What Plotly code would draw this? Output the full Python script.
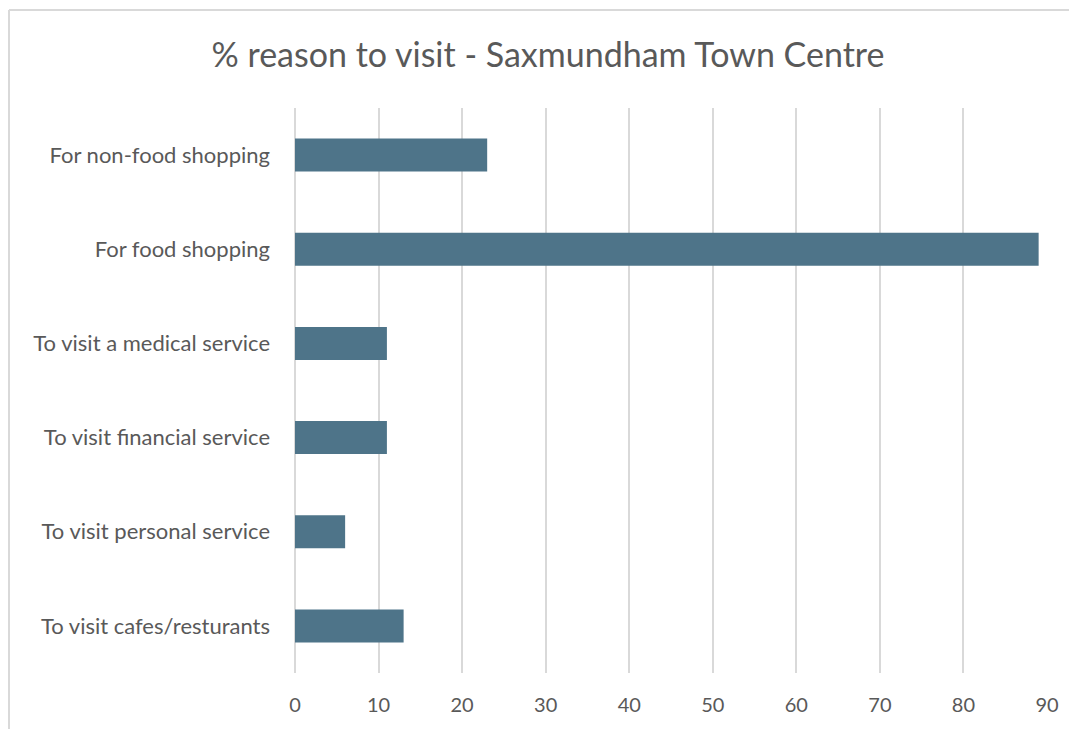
import plotly.graph_objects as go

# chart data
categories = [
    "For non-food shopping",
    "For food shopping",
    "To visit a medical service",
    "To visit financial service",
    "To visit personal service",
    "To visit cafes/resturants",
]
percent = [23, 89, 11, 11, 6, 13]
x_ticks = list(range(0, 100, 10))

BAR = "#4e7489"
GRID = "#d9d9d9"
TEXT = "#595959"
FONT = "Lato, 'Open Sans', sans-serif"

fig = go.Figure(go.Bar(
    x=percent,
    y=categories,
    orientation="h",
    marker=dict(color=BAR, line=dict(width=0)),
))

# the page body adds an 8px offset, so the figure is 8px smaller
W, H = 1069, 721
L, R, T, B = 287, 30, 100, 56
pw, ph = W - L - R, H - T - B

fig.update_layout(
    width=W, height=H,
    margin=dict(l=L, r=R, t=T, b=B),
    paper_bgcolor="white",
    plot_bgcolor="white",
    bargap=0.65,
    showlegend=False,
    font=dict(family=FONT, color=TEXT),
    title=dict(
        text="% reason to visit - Saxmundham Town Centre",
        x=(548 - 8) / W, xanchor="center",
        y=1 - 47 / H, yanchor="middle",
        font=dict(size=34, color=TEXT, family=FONT),
    ),
    xaxis=dict(
        range=[0, 90],
        tickvals=x_ticks,
        showgrid=True, gridcolor=GRID, gridwidth=2,
        zeroline=True, zerolinecolor=GRID, zerolinewidth=2,
        showline=False,
        tickfont=dict(size=20, color=TEXT),
        ticklabelstandoff=18,
        fixedrange=True,
    ),
    yaxis=dict(
        autorange="reversed",
        showgrid=False, zeroline=False, showline=False,
        tickfont=dict(size=22, color=TEXT),
        ticklabelstandoff=24,
        fixedrange=True,
    ),
    shapes=[
        # chart border (only top and left edges show in the reference)
        dict(type="line", xref="paper", yref="paper",
             x0=(1 - L) / pw, x1=(W + 10 - L) / pw,
             y0=(H - B - 2) / ph, y1=(H - B - 2) / ph,
             line=dict(color=GRID, width=2)),
        dict(type="line", xref="paper", yref="paper",
             x0=(1 - L) / pw, x1=(1 - L) / pw,
             y0=(H - B - 2) / ph, y1=-(B + 20) / ph,
             line=dict(color=GRID, width=2)),
    ],
)

fig.write_html("out.html", config={"displayModeBar": False})
